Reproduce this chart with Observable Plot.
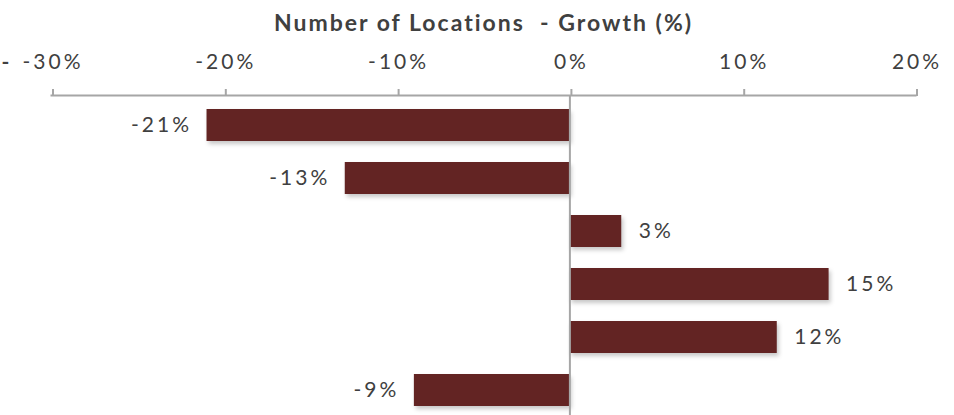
<!DOCTYPE html>
<html>
<head>
<meta charset="utf-8">
<script src="https://cdn.jsdelivr.net/npm/d3@7"></script>
<script src="https://cdn.jsdelivr.net/npm/@observablehq/plot@0.6"></script>
<style>
  html, body { margin: 0; padding: 0; background: #fff; }
  #chart svg { display: block; }
  g[aria-label="bar"] rect { filter: drop-shadow(2px 3px 2px rgba(0,0,0,0.22)); }
</style>
</head>
<body>
<div id="chart"></div>
<script>
const title = "Number of Locations  - Growth (%)";
const categories = ["Group 1", "Group 2", "Group 3", "Group 4", "Group 5", "Group 6"];
const growth = [-21, -13, 3, 15, 12, -9];
const xTicks = [-30, -20, -10, 0, 10, 20];

const data = categories.map((c, i) => ({category: c, growth: growth[i]}));
const fmt = d => `${d}%`;
const textColor = "#404040";
const gridGray = "#a6a6a6";

const chart = Plot.plot({
  width: 954,
  height: 415,
  marginTop: 95,
  marginLeft: 51,
  marginRight: 39,
  marginBottom: 0,
  style: {fontFamily: "Lato, 'Open Sans', sans-serif", background: "#fff"},
  x: {domain: [-30, 20], axis: null, label: null},
  y: {domain: categories, range: [96, 419], paddingInner: 0.4, paddingOuter: 0.2, axis: null, label: null},
  marks: [
    Plot.barX(data, {x: "growth", y: "category", fill: "#632423"}),
    Plot.ruleX([0], {stroke: gridGray, strokeWidth: 2}),
    Plot.frame({anchor: "top", stroke: gridGray, strokeWidth: 2}),
    Plot.axisX({anchor: "top", ticks: xTicks, tickFormat: fmt, tickSize: 7, tickPadding: 20, label: null,
      stroke: gridGray, strokeWidth: 2, fill: textColor, fontSize: 21, dx: 1.5}),
    Plot.text(data.filter(d => d.growth < 0), {x: "growth", y: "category", text: d => fmt(d.growth),
      textAnchor: "end", dx: -15, fill: textColor, fontSize: 21}),
    Plot.text(data.filter(d => d.growth >= 0), {x: "growth", y: "category", text: d => fmt(d.growth),
      textAnchor: "start", dx: 17, fill: textColor, fontSize: 21}),
    Plot.text([title], {frameAnchor: "top", dy: -81, text: d => d, fill: textColor,
      fontSize: 23, fontWeight: "bold"}),
    Plot.text(["-"], {frameAnchor: "top-left", dx: -50, dy: -41, text: d => d, fill: textColor,
      fontSize: 21, fontWeight: "bold"})
  ]
});
document.getElementById("chart").appendChild(chart);
const svg = d3.select(chart);
svg.selectAll("text").style("letter-spacing", "3px");
svg.selectAll("text").filter(function() { return this.textContent === title; })
  .style("letter-spacing", "2px");
</script>
</body>
</html>
